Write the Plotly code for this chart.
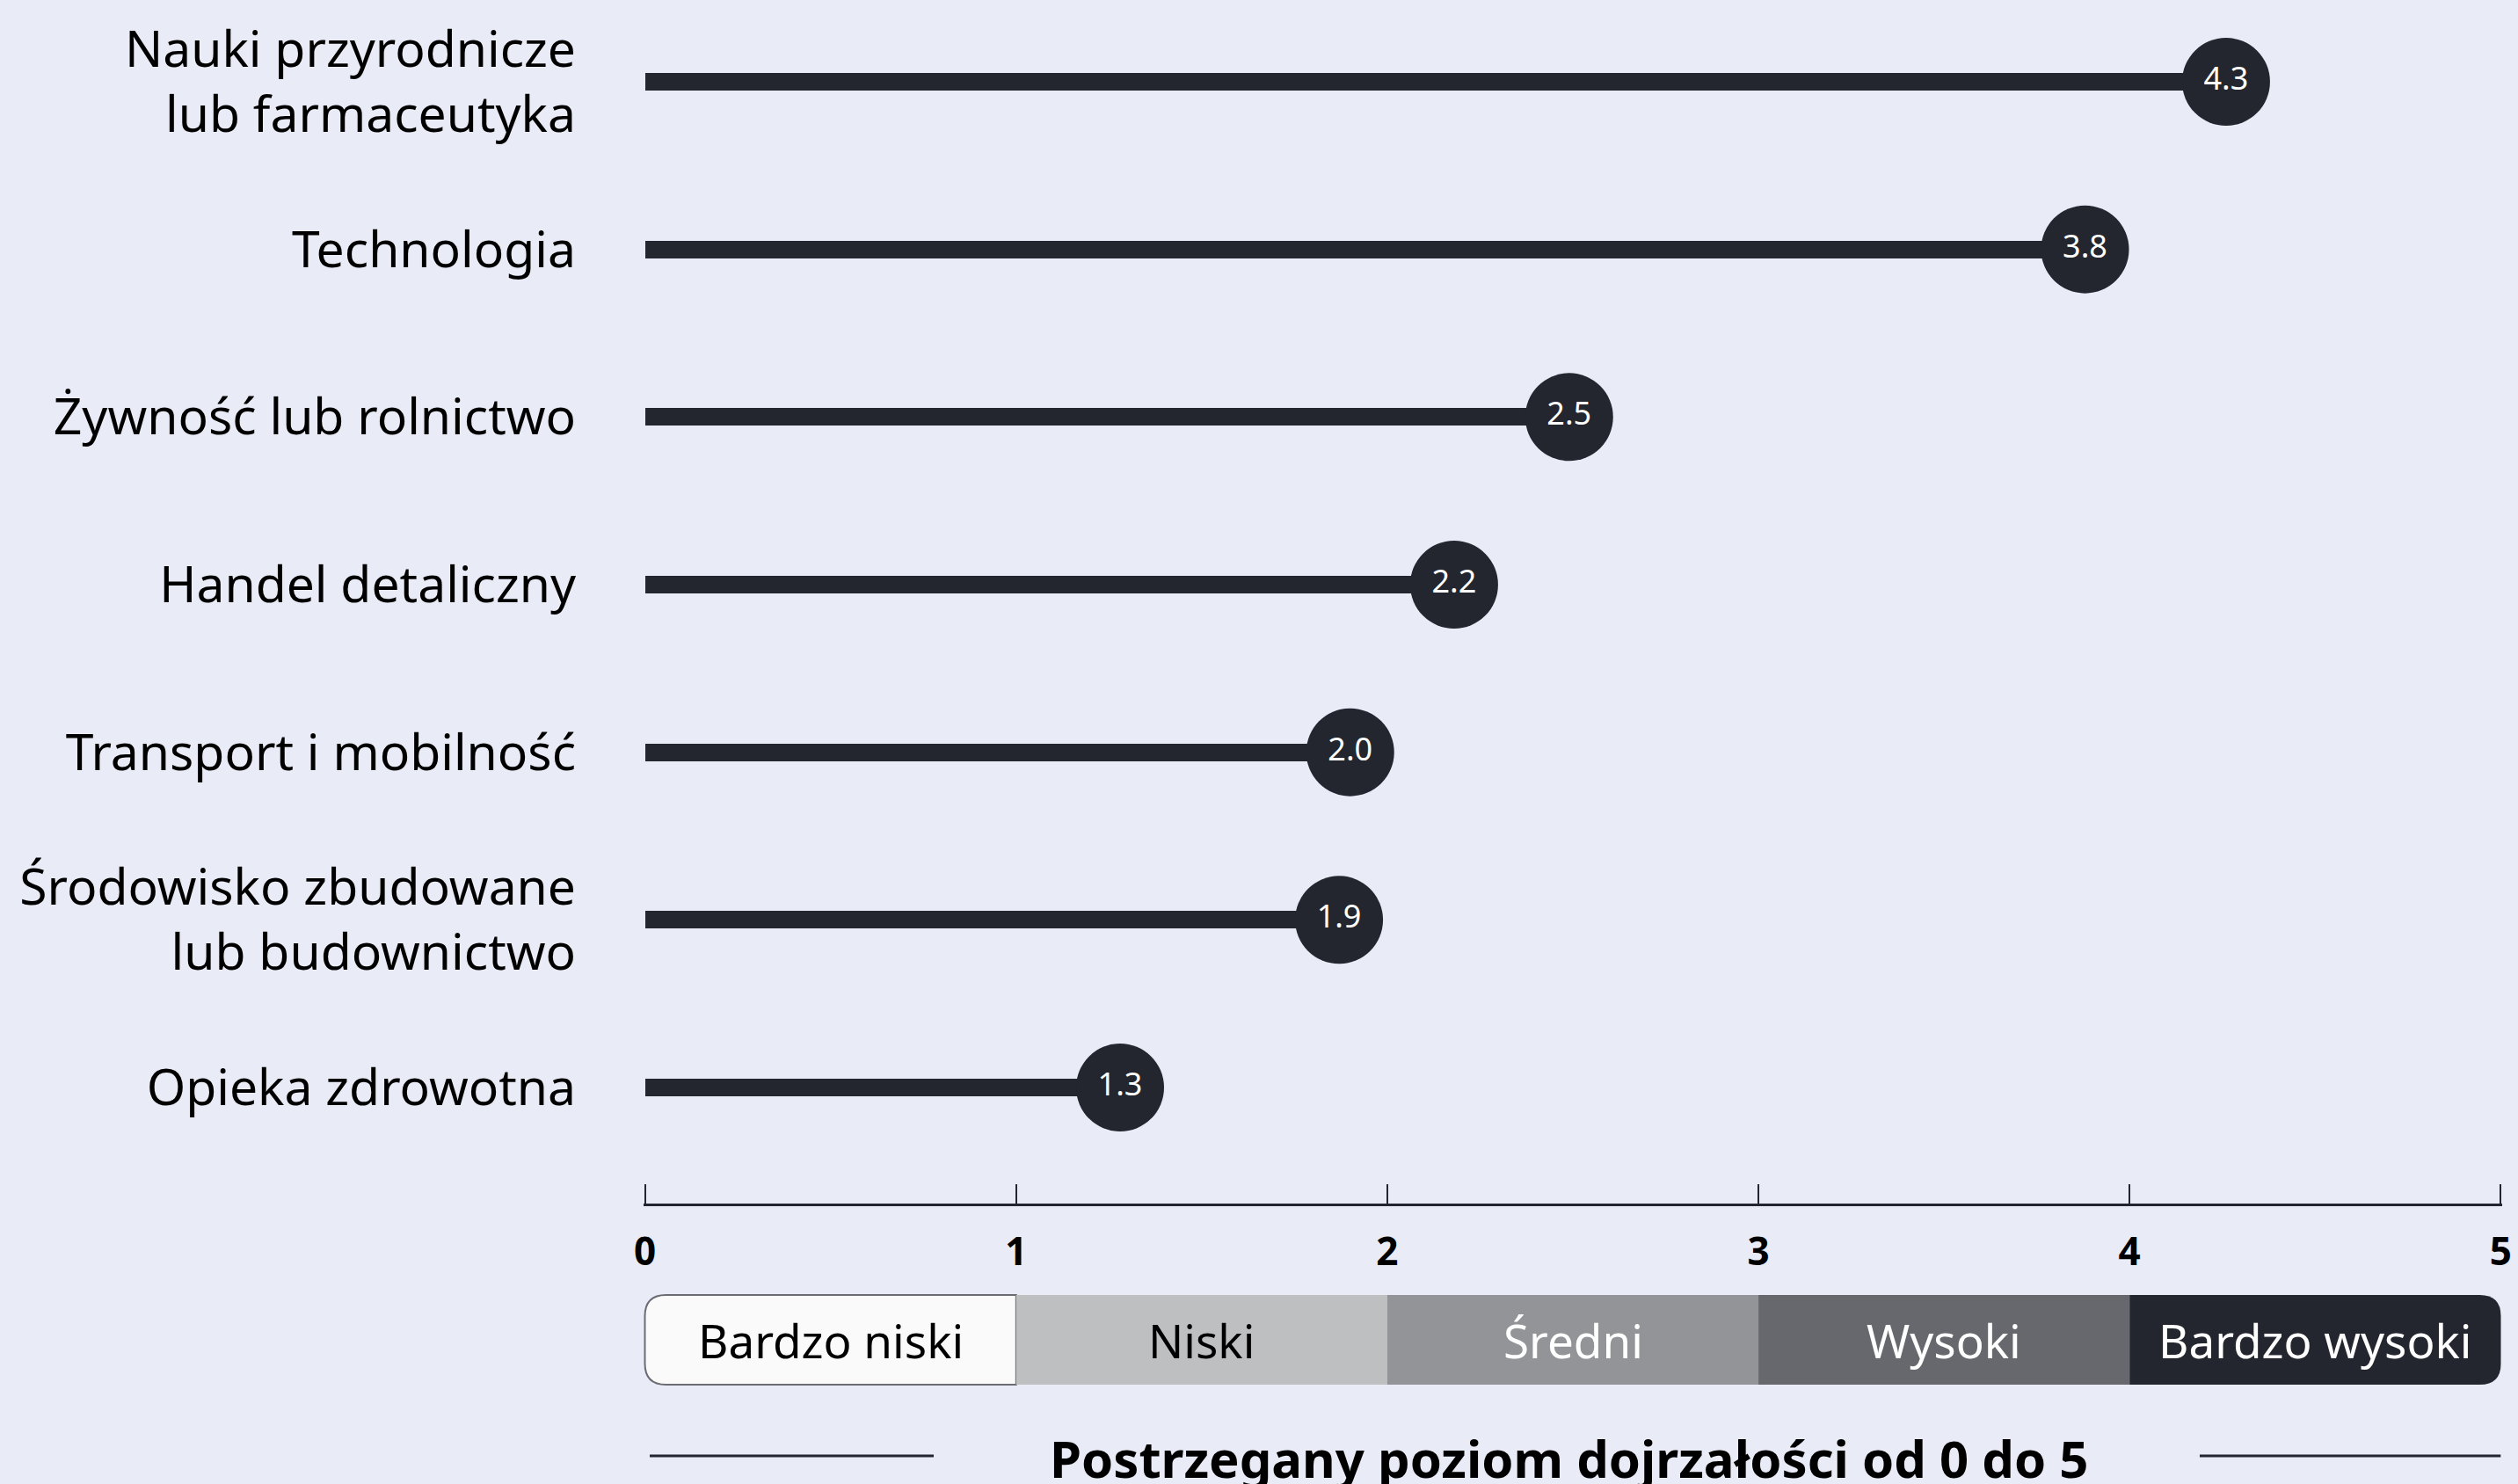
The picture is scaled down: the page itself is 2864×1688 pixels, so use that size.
import plotly.graph_objects as go

# ---------------- data ----------------
categories = [
    "Nauki przyrodnicze<br>lub farmaceutyka",
    "Technologia",
    "Żywność lub rolnictwo",
    "Handel detaliczny",
    "Transport i mobilność",
    "Środowisko zbudowane<br>lub budownictwo",
    "Opieka zdrowotna",
]
values = [4.26, 3.88, 2.49, 2.18, 1.90, 1.87, 1.28]
value_labels = ["4.3", "3.8", "2.5", "2.2", "2.0", "1.9", "1.3"]
x_ticks = [0, 1, 2, 3, 4, 5]
x_tick_labels = ["0", "1", "2", "3", "4", "5"]
levels = ["Bardzo niski", "Niski", "Średni", "Wysoki", "Bardzo wysoki"]
level_starts = [0, 1, 2, 3, 4]
x_title = "Postrzegany poziom dojrzałości od 0 do 5"

# ---------------- style ----------------
W, H = 2864, 1688
BG = "#e9ebf6"
DARK = "#23262e"
FONT = "Noto Sans"
level_fill = ["#fafafa", "#bebfc1", "#939497", "#67686d", "#23262e"]
level_text = ["#000000", "#000000", "#ffffff", "#ffffff", "#ffffff"]

L, R, T, B = 732, 18, 0, 319
plot_h = H - T - B
EPS = 0.004
px_per_x = (W - L - R) / (5.0 + 2 * EPS)


def py2paper(py):
    return (H - B - py) / plot_h


def px2x(px):
    return (px - L) / px_per_x - EPS


fig = go.Figure()

fig.add_trace(go.Bar(
    x=values, y=categories, orientation="h", width=0.105,
    marker=dict(color=DARK, line=dict(width=0)),
    hoverinfo="skip", showlegend=False,
))
fig.add_trace(go.Scatter(
    x=values, y=categories, mode="markers+text",
    marker=dict(size=100, color=DARK, line=dict(width=0)),
    text=value_labels, textposition="middle center",
    textfont=dict(family=FONT, size=36, color="#ffffff"),
    cliponaxis=False, showlegend=False,
))

shapes = []
annotations = []

# level band
y_bot = py2paper(1575)
y_top = py2paper(1473)
rx = 24 / px_per_x
ry = 24 / plot_h
for i, (start, name) in enumerate(zip(level_starts, levels)):
    x0, x1 = start, start + 1
    if i == 0:
        x0 = -EPS + 1.5 / px_per_x
        path = (f"M {x0+rx},{y_bot} L {x1},{y_bot} L {x1},{y_top} L {x0+rx},{y_top} "
                f"Q {x0},{y_top} {x0},{y_top-ry} L {x0},{y_bot+ry} Q {x0},{y_bot} {x0+rx},{y_bot} Z")
        shapes.append(dict(type="path", xref="x", yref="paper", path=path,
                           fillcolor=level_fill[i], line=dict(color="#6b6c72", width=2), layer="above"))
    elif i == len(levels) - 1:
        x1 = 5 + EPS - 1.5 / px_per_x
        path = (f"M {x0},{y_bot} L {x1-rx},{y_bot} Q {x1},{y_bot} {x1},{y_bot+ry} "
                f"L {x1},{y_top-ry} Q {x1},{y_top} {x1-rx},{y_top} L {x0},{y_top} Z")
        shapes.append(dict(type="path", xref="x", yref="paper", path=path,
                           fillcolor=level_fill[i], line=dict(width=0), layer="above"))
    else:
        shapes.append(dict(type="rect", xref="x", yref="paper", x0=x0, x1=x1, y0=y_bot, y1=y_top,
                           fillcolor=level_fill[i], line=dict(width=0), layer="above"))
    annotations.append(dict(x=start + 0.5, y=(y_bot + y_top) / 2, xref="x", yref="paper",
                             text=name, showarrow=False,
                             font=dict(family=FONT, size=53, color=level_text[i]),
                             xanchor="center", yanchor="middle"))

# title with side rules
y_title = py2paper(1658)
y_rule = py2paper(1656)
annotations.append(dict(x=2.49, y=y_title, xref="x", yref="paper", text=f"<b>{x_title}</b>",
                        showarrow=False, font=dict(family=FONT, size=58, color="#000000"),
                        xanchor="center", yanchor="middle"))
for a, b in [(px2x(739), px2x(1062)), (px2x(2502), 5.0)]:
    shapes.append(dict(type="line", xref="x", yref="paper", x0=a, x1=b, y0=y_rule, y1=y_rule,
                       line=dict(color=DARK, width=3)))

# y range so rows land at the right pixel rows
row_top_px, row_bot_px = 93, 1237
step = (row_bot_px - row_top_px) / (len(categories) - 1)
y_lo = -((H - B) - row_bot_px) / step
y_hi = (len(categories) - 1) + (row_top_px - T) / step

fig.update_layout(
    width=W, height=H, autosize=False,
    margin=dict(l=L, r=R, t=T, b=B, pad=0),
    paper_bgcolor=BG, plot_bgcolor=BG,
    font=dict(family=FONT, color="#000000"),
    shapes=shapes, annotations=annotations,
    bargap=0,
    xaxis=dict(range=[-EPS, 5 + EPS], tickvals=x_ticks, ticktext=x_tick_labels,
               ticks="inside", ticklen=22, tickwidth=2, tickcolor=DARK,
               showline=True, linecolor=DARK, linewidth=3,
               showgrid=False, zeroline=False, ticklabelstandoff=14,
               tickfont=dict(family=FONT, size=44, color="#000000", weight="bold")),
    yaxis=dict(type="category", categoryorder="array", categoryarray=list(reversed(categories)),
               range=[y_lo, y_hi], showgrid=False, zeroline=False, showline=False,
               ticks="", ticklabelstandoff=76,
               tickfont=dict(family=FONT, size=57, color="#000000")),
)

fig.write_html("out.html", config={"displayModeBar": False},
               post_script="document.body.style.margin='0';")
